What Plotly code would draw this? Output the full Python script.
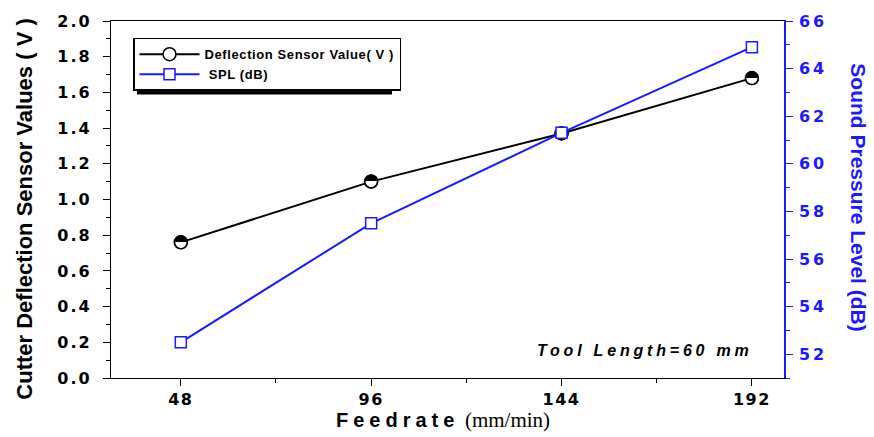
import plotly.graph_objects as go

# Feedrate settings (mm/min)
feedrate = [48, 96, 144, 192]
# Cutter deflection sensor output (V)
deflection = [0.76, 1.10, 1.37, 1.68]
# Sound pressure level (dB)
spl = [52.5, 57.5, 61.3, 64.9]

left_ticks = [0.0, 0.2, 0.4, 0.6, 0.8, 1.0, 1.2, 1.4, 1.6, 1.8, 2.0]
right_ticks = [52, 54, 56, 58, 60, 62, 64, 66]

BLUE = "#1a1aff"
SANS = "Liberation Sans, Arial, sans-serif"
WIDE = "DejaVu Sans, Verdana, sans-serif"
NARROW = "Liberation Sans Narrow, Arial Narrow, Liberation Sans, sans-serif"


def spaced(s, px):
    return f'<span style="letter-spacing:{px}px">{s}</span>'


fig = go.Figure()

fig.add_trace(go.Scatter(
    x=feedrate, y=deflection, mode="lines+markers",
    name=spaced("Deflection Sensor Value( V )", 0.6),
    line=dict(color="black", width=2),
    marker=dict(symbol="circle", size=13, color="white",
                line=dict(color="black", width=1.5)),
    yaxis="y",
))
# Upper half filled circle glyph on top of each deflection marker
fig.add_trace(go.Scatter(
    x=feedrate, y=deflection, mode="text", text=["◓"] * len(feedrate),
    textfont=dict(family="DejaVu Sans", size=18, color="black"),
    textposition="middle center", showlegend=False, hoverinfo="skip",
    yaxis="y",
))
fig.add_trace(go.Scatter(
    x=feedrate, y=spl, mode="lines+markers",
    name=spaced(" SPL (dB)", 0.6),
    line=dict(color=BLUE, width=2),
    marker=dict(symbol="square", size=11, color="white",
                line=dict(color=BLUE, width=1.5)),
    yaxis="y2",
))

tickfont = dict(family=WIDE, size=16, color="black", weight="bold")

fig.update_layout(
    width=874, height=437,
    margin=dict(l=111, r=90, t=18, b=59),
    paper_bgcolor="white", plot_bgcolor="white",
    showlegend=True,
    legend=dict(
        x=0.0327, y=0.953, xanchor="left", yanchor="top",
        bgcolor="white", bordercolor="black", borderwidth=1.5,
        font=dict(family=SANS, size=13, color="black", weight="bold"),
        itemwidth=60, tracegroupgap=0,
    ),
    xaxis=dict(
        range=[30.4, 200.1], tickvals=feedrate,
        ticktext=[spaced(str(v), 1.5) for v in feedrate],
        ticks="outside", ticklen=7, tickwidth=1.2, tickcolor="black",
        minor=dict(tickvals=[72, 120, 168], ticks="outside", ticklen=4,
                   tickcolor="black", tickwidth=1.2),
        showline=True, linecolor="black", linewidth=1.2, mirror=True,
        showgrid=False, zeroline=False, tickfont=tickfont,
    ),
    yaxis=dict(
        range=[0, 2], tickvals=left_ticks,
        ticktext=[spaced(f"{v:.1f}", 2) for v in left_ticks],
        ticks="outside", ticklen=7, tickwidth=1.2, tickcolor="black",
        minor=dict(dtick=0.1, ticks="outside", ticklen=4,
                   tickcolor="black", tickwidth=1.2),
        showline=True, linecolor="black", linewidth=1.2,
        showgrid=False, zeroline=False, tickfont=tickfont,
        ticklabelstandoff=8,
    ),
    yaxis2=dict(
        overlaying="y", side="right", range=[51, 66], tickvals=right_ticks,
        ticktext=[spaced(str(v), 3) for v in right_ticks],
        ticks="outside", ticklen=7, tickwidth=1.2, tickcolor=BLUE,
        minor=dict(dtick=1, ticks="outside", ticklen=4,
                   tickcolor=BLUE, tickwidth=1.2),
        showline=True, linecolor=BLUE, linewidth=1.5,
        showgrid=False, zeroline=False,
        tickfont=dict(family=WIDE, size=16, color=BLUE, weight="bold"),
        ticklabelstandoff=3,
    ),
    annotations=[
        dict(text="Cutter Deflection Sensor Values ( V )", textangle=-90,
             xref="paper", yref="paper", x=-0.129, y=0.472,
             xanchor="center", yanchor="middle", showarrow=False,
             font=dict(family=NARROW, size=22, color="black", weight="bold")),
        dict(text="Sound Pressure Level (dB)", textangle=90,
             xref="paper", yref="paper", x=1.1115, y=0.506,
             xanchor="center", yanchor="middle", showarrow=False,
             font=dict(family=NARROW, size=21, color=BLUE, weight="bold")),
        dict(text=spaced("Feedrate", 5)
             + ' <span style="font-family:Liberation Serif, Times New Roman, serif;font-weight:normal;font-size:21px">(mm/min)</span>',
             xref="paper", yref="paper", x=0.493, y=-0.119,
             xanchor="center", yanchor="middle", showarrow=False,
             font=dict(family=SANS, size=20, color="black", weight="bold")),
        dict(text=spaced("Tool Length=60 mm", 3.8),
             xref="paper", yref="paper", x=0.793, y=0.078,
             xanchor="center", yanchor="middle", showarrow=False,
             font=dict(family=SANS, size=16, color="black", weight="bold",
                       style="italic")),
    ],
    shapes=[
        # drop shadow behind the legend box
        dict(type="rect", xref="paper", yref="paper",
             x0=0.0386, x1=0.4175, y0=0.794, y1=0.9417,
             fillcolor="black", line=dict(width=0), layer="above"),
    ],
)

fig.write_html("out.html")
